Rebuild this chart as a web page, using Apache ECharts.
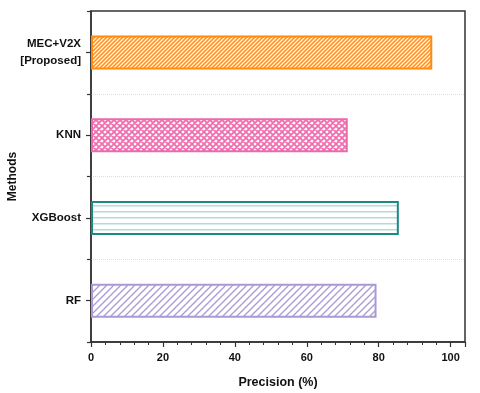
<!DOCTYPE html>
<html>
<head>
<meta charset="utf-8">
<script src="https://cdn.jsdelivr.net/npm/echarts@6/dist/echarts.min.js"></script>
<style>
  html, body { margin: 0; padding: 0; background: #fff; }
  #chart { width: 480px; height: 393px; }
</style>
</head>
<body>
<div id="chart"></div>
<script>
// data, bottom to top
const methods = ['RF', 'XGBoost', 'KNN', 'MEC+V2X\n[Proposed]'];
const precision = [79.4, 85.6, 71.4, 94.9];
const xTicks = [0, 20, 40, 60, 80, 100];

const borderColors = ['#a99ad6', '#1a8a83', '#ec6aa8', '#ff8a0d'];

// hatch tiles
function diagTile(size, color, lw) {
  const c = document.createElement('canvas');
  c.width = size; c.height = size;
  const g = c.getContext('2d');
  g.fillStyle = '#fff';
  g.fillRect(0, 0, size, size);
  g.strokeStyle = color;
  g.lineWidth = lw;
  g.beginPath();
  g.moveTo(-1, 1); g.lineTo(1, -1);
  g.moveTo(0, size); g.lineTo(size, 0);
  g.moveTo(size - 1, size + 1); g.lineTo(size + 1, size - 1);
  g.stroke();
  return c;
}
function crossTile(size, color, lw) {
  const c = document.createElement('canvas');
  c.width = size; c.height = size;
  const g = c.getContext('2d');
  g.fillStyle = '#fff';
  g.fillRect(0, 0, size, size);
  g.strokeStyle = color;
  g.lineWidth = lw;
  g.beginPath();
  g.moveTo(-1, 1); g.lineTo(1, -1);
  g.moveTo(0, size); g.lineTo(size, 0);
  g.moveTo(size - 1, size + 1); g.lineTo(size + 1, size - 1);
  g.moveTo(-1, size - 1); g.lineTo(1, size + 1);
  g.moveTo(0, 0); g.lineTo(size, size);
  g.moveTo(size - 1, -1); g.lineTo(size + 1, 1);
  g.stroke();
  return c;
}
function horizTile(h, color, lw) {
  const c = document.createElement('canvas');
  c.width = 4; c.height = h;
  const g = c.getContext('2d');
  g.fillStyle = '#fff';
  g.fillRect(0, 0, 4, h);
  g.fillStyle = color;
  g.fillRect(0, 0, 4, lw);
  return c;
}

const fills = [
  { image: diagTile(7, '#a99ad6', 1.3), repeat: 'repeat' },
  { image: horizTile(6, '#b3dcd8', 1.5), repeat: 'repeat', y: 1 },
  { image: crossTile(6, '#ef6cae', 1.8), repeat: 'repeat' },
  { image: diagTile(4, '#ff9628', 1.6), repeat: 'repeat' }
];

const chart = echarts.init(document.getElementById('chart'));

const axisColor = '#333';
const font = '"Liberation Sans", Arial, sans-serif';

chart.setOption({
  animation: false,
  grid: {
    left: 91, top: 11, right: 15, bottom: 51,
    containLabel: false,
    outerBoundsMode: 'none',
    show: true, borderColor: axisColor, borderWidth: 1.5
  },
  xAxis: {
    type: 'value',
    min: 0, max: 104, interval: 20,
    name: 'Precision (%)',
    nameLocation: 'middle',
    nameGap: 34,
    nameMoveOverlap: false,
    nameTextStyle: { fontFamily: font, fontWeight: 'bold', fontSize: 12.5, color: '#111' },
    axisLine: { show: true, lineStyle: { color: axisColor, width: 1.5 } },
    axisTick: { show: true, length: 5, lineStyle: { color: axisColor, width: 1.2 } },
    minorTick: { show: true, splitNumber: 5, length: 3, lineStyle: { color: axisColor, width: 1 } },
    axisLabel: {
      fontFamily: font, fontWeight: 'bold', fontSize: 11, color: '#111', margin: 10,
      showMaxLabel: false,
      formatter: v => (xTicks.indexOf(v) >= 0 ? String(v) : '')
    },
    splitLine: { show: false }
  },
  yAxis: [
    {
      type: 'category',
      data: methods,
      name: 'Methods',
      nameLocation: 'middle',
      nameRotate: 90,
      nameGap: 72,
      nameMoveOverlap: false,
      nameTextStyle: { fontFamily: font, fontWeight: 'bold', fontSize: 12, color: '#111' },
      axisLine: { show: true, lineStyle: { color: axisColor, width: 1.5 } },
      axisTick: { show: true, alignWithLabel: true, length: 5, lineStyle: { color: axisColor, width: 1.2 } },
      axisLabel: {
        fontFamily: font, fontWeight: 'bold', fontSize: 11.5, color: '#111',
        margin: 10, lineHeight: 17, align: 'right'
      },
      splitLine: { show: false }
    },
    {
      type: 'category',
      data: methods,
      position: 'left',
      offset: 0,
      axisLine: { show: false },
      axisTick: { show: true, length: 4, lineStyle: { color: axisColor, width: 1.2 } },
      axisLabel: { show: false },
      splitLine: {
        show: true, showMinLine: false, showMaxLine: false,
        lineStyle: { color: '#dcdcdc', type: 'dotted', width: 1 }
      }
    }
  ],
  series: [{
    type: 'bar',
    yAxisIndex: 0,
    barWidth: 34,
    data: precision.map((v, i) => ({
      value: v,
      itemStyle: { color: fills[i], borderColor: borderColors[i], borderWidth: 2 }
    }))
  }]
});
</script>
</body>
</html>
